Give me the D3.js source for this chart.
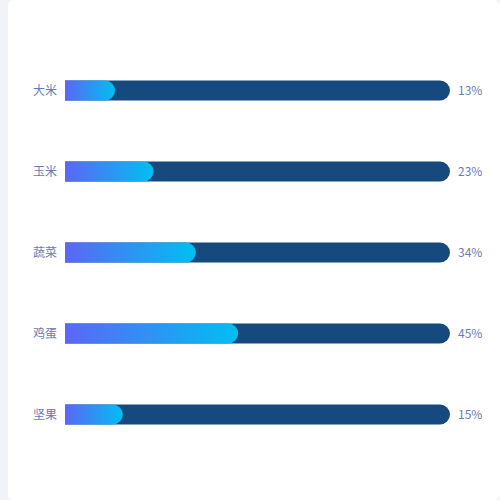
<!DOCTYPE html><html><head><meta charset="utf-8"><script src="https://cdn.jsdelivr.net/npm/d3@7"></script>
<style>body{margin:0;background:#f2f3f8}</style></head><body><svg id="c" width="500" height="500"></svg>
<script>
const categories=["大米","玉米","蔬菜","鸡蛋","坚果"];
const values=[13,23,34,45,15];
const svg=d3.select("#c");
svg.append("rect").attr("x",8).attr("y",0).attr("width",492).attr("height",500).attr("rx",6).attr("fill","#fff");
const x=d3.scaleLinear().domain([0,100]).range([65,450]);
const y=d3.scaleBand().domain(categories).range([50,455]).paddingInner(0.753).paddingOuter(0.376);
const defs=svg.append("defs");
const g=defs.append("linearGradient").attr("id","gr").attr("x1","0").attr("x2","1");
g.append("stop").attr("offset","0").attr("stop-color","#5b67f5");
g.append("stop").attr("offset","1").attr("stop-color","#00bff2");
function rbar(x0,x1,y0,h){const r=h/2;return `M${x0},${y0}H${x1-r}A${r},${r} 0 0 1 ${x1-r},${y0+h}H${x0}Z`;}
categories.forEach((c,i)=>{
 const y0=y(c),h=y.bandwidth();
 svg.append("path").attr("d",rbar(x(0),x(100),y0,h)).attr("fill","#164a7e");
 svg.append("path").attr("d",rbar(x(0),x(values[i]),y0,h)).attr("fill","url(#gr)");
 svg.append("text").attr("x",57).attr("y",y0+h/2).attr("dy","0.35em").attr("text-anchor","end").attr("font-family","Noto Sans CJK SC").attr("font-size",12).attr("fill","#6a7ab5").text(c);
 svg.append("text").attr("x",458).attr("y",y0+h/2).attr("dy","0.35em").attr("font-family","Noto Sans CJK SC").attr("font-size",12).attr("fill","#6a7ab5").text(values[i]+"%");
});
</script></body></html>
